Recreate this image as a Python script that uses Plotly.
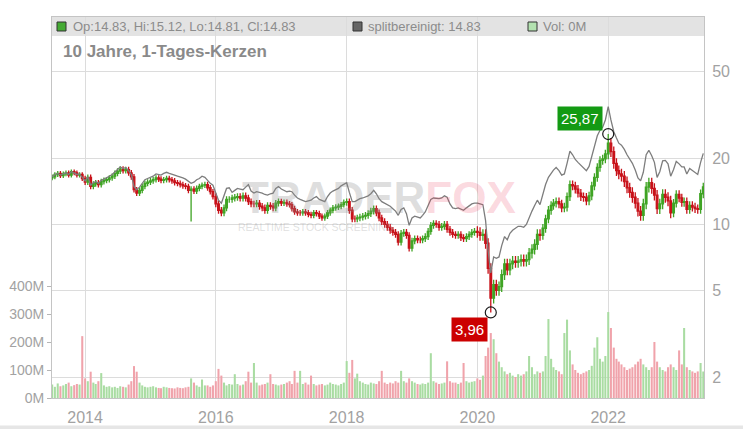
import numpy as np
import plotly.graph_objects as go

# ---------------- data (semi-monthly samples) ----------------
dates = [f"{2013 + (6 + k // 2) // 12}-{(6 + k // 2) % 12 + 1:02d}-{'01' if k % 2 == 0 else '16'}"
         for k in range(240)]

close = [
    # 2013 H2
    16.5, 16.9, 17.1, 16.7, 17.0, 17.2, 16.8, 17.4, 17.2, 16.8, 16.9, 16.2,
    # 2014
    15.6, 16.4, 14.9, 15.3, 15.5, 15.2, 15.7, 15.9, 16.0, 16.3, 16.6, 17.1,
    17.5, 17.9, 17.6, 17.8, 17.2, 16.5, 14.4, 13.9, 14.3, 14.9, 15.4, 15.6,
    # 2015
    15.8, 16.0, 16.3, 16.1, 15.9, 16.0, 16.2, 16.0, 15.8, 15.5, 15.4, 15.2,
    15.0, 14.9, 14.3, 14.5, 14.2, 14.6, 14.9, 15.1, 15.2, 14.7, 14.1, 13.4,
    # 2016
    12.4, 11.6, 11.3, 11.9, 13.0, 13.0, 13.2, 13.3, 13.4, 13.2, 13.5, 13.2,
    12.7, 12.4, 12.4, 12.5, 12.1, 11.9, 11.6, 12.2, 12.1, 11.9, 12.5, 12.7,
    # 2017
    12.5, 12.6, 12.4, 12.3, 11.8, 11.4, 11.3, 11.3, 11.4, 11.3, 11.1, 11.0,
    11.3, 11.2, 10.9, 10.7, 10.9, 11.3, 11.6, 11.9, 12.0, 12.1, 12.3, 12.6,
    # 2018
    12.7, 11.6, 10.6, 10.6, 10.7, 10.8, 10.9, 11.0, 11.2, 11.5, 11.8, 11.3,
    10.7, 10.3, 10.0, 9.7, 9.4, 9.2, 9.0, 8.3, 9.1, 9.2, 8.9, 7.8,
    # 2019
    8.4, 8.6, 8.5, 8.5, 8.6, 8.8, 9.3, 9.9, 10.1, 10.0, 9.7, 9.8,
    10.0, 9.5, 9.2, 9.0, 8.9, 9.0, 8.7, 8.6, 8.8, 9.0, 9.2, 9.3,
    # 2020
    9.2, 8.9, 9.0, 8.2, 6.3, 4.6, 5.3, 5.0, 5.2, 5.9, 6.6, 6.2,
    6.6, 6.8, 6.7, 6.8, 6.9, 6.8, 6.9, 7.4, 7.7, 8.1, 9.0, 8.9,
    # 2021
    9.6, 10.6, 11.6, 12.2, 12.5, 12.7, 12.4, 11.9, 12.0, 13.4, 15.2, 15.0,
    14.5, 13.9, 13.4, 13.3, 12.8, 13.5, 15.0, 16.4, 18.2, 19.6, 19.9, 21.0,
    # 2022
    23.5, 21.5, 19.0, 17.6, 17.0, 16.6, 15.7, 14.7, 14.0, 13.3, 12.5, 11.5,
    11.0, 12.4, 14.8, 15.5, 14.6, 13.6, 11.8, 12.4, 13.7, 13.3, 12.8, 11.3,
    # 2023 H1
    12.5, 13.7, 13.2, 12.6, 12.7, 11.7, 12.2, 12.0, 11.8, 11.7, 13.8, 14.83,
]
first_open = 16.3
extreme_lows = {"2015-08-16": 10.3, "2020-03-16": 3.96}
extreme_highs = {"2022-01-01": 25.87}

# typical intra-period high/low excursion per calendar year (fraction), read from band thickness
year_range_frac = {2013: 0.025, 2014: 0.03, 2015: 0.03, 2016: 0.035, 2017: 0.03, 2018: 0.035,
                   2019: 0.035, 2020: 0.055, 2021: 0.045, 2022: 0.055, 2023: 0.045}

split_adj = [
    16.5, 16.9, 17.1, 16.8, 17.0, 17.2, 16.9, 17.4, 17.2, 16.9, 17.0, 16.3,
    15.8, 16.5, 15.1, 15.5, 15.7, 15.4, 15.9, 16.1, 16.3, 16.6, 16.9, 17.4,
    17.9, 18.3, 18.0, 18.2, 17.6, 16.9, 14.9, 14.4, 14.8, 15.5, 16.0, 16.2,
    16.4, 16.6, 17.0, 16.9, 16.8, 17.1, 17.3, 17.1, 17.0, 16.8, 16.6, 16.5,
    16.3, 16.1, 15.8, 15.4, 15.6, 16.0, 16.2, 16.6, 16.4, 15.8, 15.4, 15.1,
    13.9, 12.9, 12.5, 13.5, 14.6, 14.7, 14.0, 14.3, 14.6, 14.5, 14.4, 14.8,
    15.2, 14.2, 13.9, 14.1, 14.0, 13.9, 13.7, 13.6, 13.8, 13.9, 14.6, 14.9,
    14.5, 14.3, 14.1, 14.2, 14.1, 13.6, 13.2, 13.0, 12.9, 12.7, 12.8, 12.9,
    13.2, 13.4, 13.0, 12.8, 12.7, 13.4, 13.9, 14.2, 14.4, 14.6, 15.0, 15.3,
    15.5, 14.0, 12.7, 12.7, 12.9, 13.1, 13.2, 13.3, 13.5, 13.8, 14.3, 13.8,
    13.1, 12.7, 12.5, 12.3, 12.1, 11.8, 11.5, 11.0, 11.7, 11.9, 11.2, 9.9,
    10.7, 10.9, 10.8, 10.7, 11.0, 11.4, 12.2, 13.0, 13.2, 13.1, 13.1, 13.2,
    13.5, 13.3, 12.4, 11.9, 11.8, 11.9, 11.7, 11.6, 11.9, 12.2, 12.4, 12.5,
    12.5, 12.4, 12.3, 10.4, 7.6, 6.0, 7.1, 7.0, 7.1, 8.0, 8.8, 8.5,
    9.1, 9.4, 9.6, 9.8, 9.8, 9.7, 10.0, 10.8, 11.5, 12.2, 12.9, 12.3,
    13.8, 15.2, 16.4, 17.1, 17.7, 18.2, 17.6, 16.8, 17.0, 19.0, 21.6, 20.8,
    19.8, 19.2, 18.7, 18.2, 17.6, 18.4, 20.5, 22.8, 25.4, 26.9, 27.8, 30.0,
    34.5, 30.0, 26.5, 24.8, 23.5, 23.0, 22.0, 20.8, 19.8, 19.0, 17.7, 16.3,
    15.8, 17.3, 20.8, 21.8, 20.6, 19.2, 16.4, 17.4, 19.5, 19.6, 18.9, 16.6,
    17.8, 19.4, 18.9, 18.3, 18.3, 17.0, 18.0, 17.6, 17.3, 16.9, 19.2, 21.1,
]

volume_m = [
    48, 40, 52, 42, 45, 50, 55, 42, 46, 50, 48, 221,
    70, 60, 94, 55, 50, 60, 89, 45, 40, 42, 38, 40,
    36, 42, 40, 38, 48, 60, 114, 94, 55, 45, 40, 38,
    40, 42, 38, 36, 35, 40, 38, 36, 35, 34, 38, 36,
    35, 38, 40, 70, 55, 45, 40, 66, 45, 45, 40, 45,
    60, 104, 80, 55, 45, 50, 48, 85, 50, 45, 48, 60,
    94, 55, 125, 55, 45, 48, 50, 55, 85, 50, 48, 45,
    48, 50, 55, 60, 50, 97, 55, 97, 50, 55, 48, 80,
    50, 45, 48, 50, 45, 48, 55, 50, 48, 45, 50, 55,
    132, 90, 136, 70, 87, 60, 55, 50, 48, 55, 52, 50,
    60, 97, 55, 50, 55, 52, 60, 55, 97, 60, 55, 70,
    60, 55, 50, 48, 52, 50, 55, 160, 60, 55, 50, 52,
    55, 131, 60, 55, 55, 50, 55, 125, 60, 55, 58, 60,
    70, 65, 80, 150, 180, 232, 210, 160, 130, 110, 95, 85,
    90, 80, 75, 85, 80, 85, 95, 150, 110, 85, 95, 90,
    95, 150, 282, 140, 110, 100, 95, 85, 232, 280, 170, 120,
    100, 90, 85, 90, 95, 100, 115, 180, 217, 140, 130, 150,
    307, 250, 180, 140, 130, 120, 110, 100, 105, 110, 120, 130,
    140, 120, 110, 100, 110, 200, 130, 110, 100, 95, 110, 120,
    110, 100, 170, 120, 250, 110, 100, 95, 90, 95, 125, 95,
]

price_ticks = [2, 5, 10, 20, 50]
vol_ticks = [0, 100, 200, 300, 400]
vol_labels = ["0M", "100M", "200M", "300M", "400M"]
year_range = ["2013-06-30", "2023-06-20"]

# ---------------- derived OHLC ----------------
opens = [first_open] + close[:-1]
rfrac = [year_range_frac[int(d[:4])] for d in dates]
highs = [extreme_highs.get(d, max(o, c) * (1 + r)) for d, o, c, r in zip(dates, opens, close, rfrac)]
lows = [extreme_lows.get(d, min(o, c) * (1 - r)) for d, o, c, r in zip(dates, opens, close, rfrac)]

UP = "#3fa424"
DN = "#c8121a"
VUP = "#a9dca2"
VDN = "#f0a3ab"
vcolors = [VUP if c >= o else VDN for o, c in zip(opens, close)]

GRID = "#dcdcdc"
AXL = "#c4c4c4"
TXT = "#a2a2a2"
FONT = "Liberation Sans, Arial, sans-serif"

W, H = 743, 429
ML, MR, MT, MB = 52, 39, 17, 31
PW, PH = W - ML - MR, H - MT - MB


def fx(px):
    return (px - ML) / PW


def fy(py):
    return 1 - (py - MT) / PH


fig = go.Figure()

fig.add_trace(go.Bar(
    x=dates, y=volume_m, marker=dict(color=vcolors, line=dict(width=0)),
    yaxis="y", hoverinfo="skip", showlegend=False))

fig.add_trace(go.Scatter(
    x=dates, y=split_adj, mode="lines", yaxis="y2",
    line=dict(color="#7d7d7d", width=1.3), showlegend=False))

fig.add_trace(go.Candlestick(
    x=dates, open=opens, high=highs, low=lows, close=close, yaxis="y2",
    increasing=dict(line=dict(color=UP, width=1.3), fillcolor=UP),
    decreasing=dict(line=dict(color=DN, width=1.3), fillcolor=DN),
    whiskerwidth=0, showlegend=False))

ext_x = ["2022-01-01", "2020-03-16"]
ext_y = [extreme_highs["2022-01-01"], extreme_lows["2020-03-16"]]
fig.add_trace(go.Scatter(
    x=ext_x, y=ext_y, mode="markers", yaxis="y2",
    marker=dict(symbol="circle-open", size=11, color="#1a1a1a", line=dict(width=1.2)),
    showlegend=False))

shapes = [
    dict(type="rect", xref="paper", yref="paper", x0=0, x1=1, y0=fy(36), y1=1,
         fillcolor="#e3e3e3", line=dict(width=0), layer="below"),
    dict(type="rect", xref="paper", yref="paper", x0=fx(57), x1=fx(66), y0=fy(31), y1=fy(22),
         fillcolor="#44aa33", line=dict(color="#333", width=1)),
    dict(type="rect", xref="paper", yref="paper", x0=fx(353), x1=fx(362), y0=fy(31), y1=fy(22),
         fillcolor="#666666", line=dict(color="#333", width=1)),
    dict(type="rect", xref="paper", yref="paper", x0=fx(528), x1=fx(537), y0=fy(31), y1=fy(22),
         fillcolor="#b3e2b0", line=dict(color="#333", width=1)),
    dict(type="rect", xref="paper", yref="paper", x0=fx(0), x1=fx(743),
         y0=fy(429), y1=fy(425.5), fillcolor="#e6e6e6", line=dict(width=0)),
]

annotations = [
    dict(text="Op:14.83, Hi:15.12, Lo:14.81, Cl:14.83", xref="paper", yref="paper",
         x=fx(71), y=fy(26.5), xanchor="left", yanchor="middle", showarrow=False,
         font=dict(size=13, color="#8c8c8c", family=FONT)),
    dict(text="splitbereinigt: 14.83", xref="paper", yref="paper",
         x=fx(366), y=fy(26.5), xanchor="left", yanchor="middle", showarrow=False,
         font=dict(size=13, color="#8c8c8c", family=FONT)),
    dict(text="Vol: 0M", xref="paper", yref="paper",
         x=fx(541), y=fy(26.5), xanchor="left", yanchor="middle", showarrow=False,
         font=dict(size=13, color="#8c8c8c", family=FONT)),
    dict(text="<b>10 Jahre, 1-Tages-Kerzen</b>", xref="paper", yref="paper",
         x=fx(61), y=fy(52), xanchor="left", yanchor="middle", showarrow=False,
         font=dict(size=17, color="#8a8a8a", family=FONT)),
    dict(text='<b><span style="color:rgba(140,140,140,0.28)">TRADER</span>'
              '<span style="color:rgba(238,60,90,0.2)">FOX</span></b>',
         xref="paper", yref="paper", x=fx(379), y=fy(197), xanchor="center", yanchor="middle",
         showarrow=False, font=dict(size=44, family=FONT)),
    dict(text="REALTIME STOCK SCREENING", xref="paper", yref="paper",
         x=fx(316), y=fy(227), xanchor="center", yanchor="middle", showarrow=False,
         font=dict(size=10.5, color="rgba(150,150,150,0.3)", family=FONT)),
    dict(text="25,87", xref="x", yref="y2", x="2022-01-01", y=np.log10(25.87),
         xanchor="right", yanchor="bottom", xshift=-5, yshift=3, showarrow=False,
         bgcolor="#139a13", borderpad=3,
         font=dict(size=15, color="white", family=FONT)),
    dict(text="3,96", xref="x", yref="y2", x="2020-03-16", y=np.log10(3.96),
         xanchor="right", yanchor="top", xshift=-3, yshift=-5, showarrow=False,
         bgcolor="#cc0000", borderpad=3,
         font=dict(size=15, color="white", family=FONT)),
]

fig.update_layout(
    width=W, height=H, autosize=False,
    margin=dict(l=ML, r=MR, t=MT, b=MB, pad=0, autoexpand=False),
    paper_bgcolor="white", plot_bgcolor="white",
    font=dict(family=FONT, color=TXT),
    showlegend=False, bargap=0.12, boxgap=0.3, boxgroupgap=0.0,
    shapes=shapes, annotations=annotations,
    xaxis=dict(type="date", range=year_range, tick0="2014-01-01", dtick="M24",
               tickformat="%Y", showgrid=True, gridcolor=GRID, gridwidth=1,
               showline=True, linecolor=AXL, mirror=True, ticks="",
               ticklabelstandoff=5, tickfont=dict(size=16, color=TXT), automargin=False,
               rangeslider=dict(visible=False), zeroline=False, fixedrange=True),
    yaxis=dict(range=[0, 1361], side="left", tickvals=vol_ticks, ticktext=vol_labels,
               ticks="outside", ticklen=4, tickcolor="#b5b5b5", showgrid=False,
               showline=True, linecolor=AXL, zeroline=False, automargin=False,
               tickfont=dict(size=14, color=TXT)),
    yaxis2=dict(type="log", overlaying="y", side="right",
                range=[np.log10(1.61), np.log10(88.6)], tickvals=price_ticks,
                showgrid=True, gridcolor=GRID, showline=True, linecolor=AXL,
                ticks="", ticklabelstandoff=4, zeroline=False, automargin=False,
                tickfont=dict(size=16, color=TXT)),
)

fig.write_html("out.html")
